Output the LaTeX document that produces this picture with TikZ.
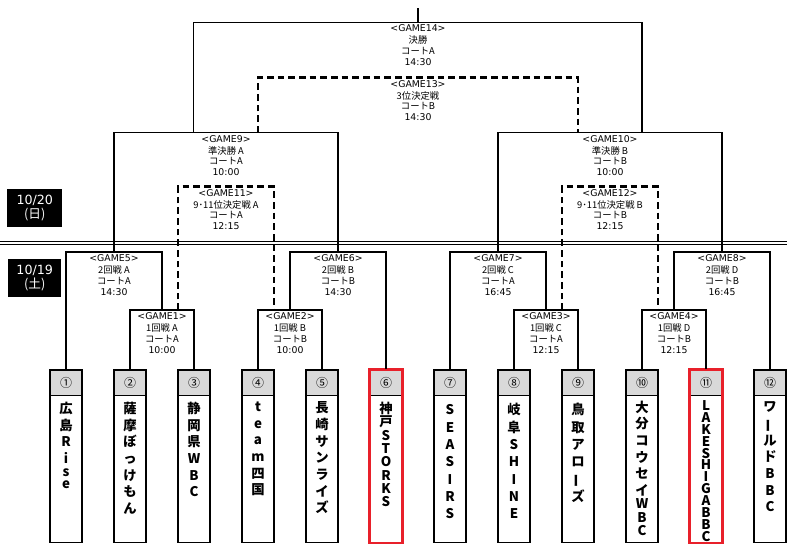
\documentclass[tikz,border=0pt]{standalone}
\usepackage{fontspec}
\setmainfont{Noto Sans CJK JP}
\newfontfamily\lat{DejaVu Sans}
\usetikzlibrary{positioning}
\definecolor{headgray}{HTML}{D9D9D9}
\definecolor{markred}{HTML}{E8202A}
\newcommand{\vbar}{\rotatebox[origin=c]{90}{ー}}
\lineskiplimit=-10pt

\begin{document}
\begin{tikzpicture}[x=0.75pt,y=-0.75pt,
  bracket/.style={line width=1pt},
  losers/.style={line width=1.8pt,dash pattern=on 5pt off 3pt},
  gametext/.style={anchor=north,align=center,inner sep=1.6pt,font=\fontsize{7pt}{8.1pt}\selectfont},
  datebox/.style={fill=black,text=white,align=center,inner sep=0pt,font=\fontsize{9.5pt}{10.6pt}\selectfont},
  teambox/.style={draw,line width=1pt,minimum width=24pt,minimum height=129.3pt,anchor=north,inner sep=0pt},
  headbox/.style={draw,line width=1pt,fill=headgray,minimum width=24pt,minimum height=19.3pt,inner sep=0pt,font=\fontsize{9pt}{9pt}\selectfont},
  teamname/.style={align=center,inner sep=0pt,font=\bfseries\fontsize{10pt}{12.5pt}\selectfont},
  marked/.style={draw=markred,line width=2pt}]
\useasboundingbox (0,0) rectangle (800,549);

% days
\node[datebox,minimum width=41.3pt,minimum height=28pt] (d20) at (34.8,208) {{\lat 10/20}\\(日)};
\node[datebox,minimum width=39.5pt,minimum height=28.3pt] (d19) at (34.7,277.9) {{\lat 10/19}\\(土)};
\draw[line width=0.8pt,double,double distance=1.8pt] (0,242.8) -- (787,242.8);

% teams
\node[teambox] (t1) at (66,369.3) {};
\node[headbox,below=0pt of t1.north] (h1) {①};
\node[teamname,below=4pt of h1] (n1) {広\\島\\R\\i\\[-3pt]s\\[-3pt]e};

\node[teambox] (t2) at (130,369.3) {};
\node[headbox,below=0pt of t2.north] (h2) {②};
\node[teamname,below=4pt of h2] (n2) {薩\\摩\\ぼ\\っ\\け\\も\\ん};

\node[teambox] (t3) at (194,369.3) {};
\node[headbox,below=0pt of t3.north] (h3) {③};
\node[teamname,below=4pt of h3] (n3) {静\\岡\\県\\W\\B\\C};

\node[teambox] (t4) at (258,369.3) {};
\node[headbox,below=0pt of t4.north] (h4) {④};
\node[teamname,below=4pt of h4] (n4) {t\\e\\a\\m\\四\\国};

\node[teambox] (t5) at (322,369.3) {};
\node[headbox,below=0pt of t5.north] (h5) {⑤};
\node[teamname,below=4pt of h5] (n5) {長\\崎\\サ\\ン\\ラ\\イ\\ズ};

\node[teambox] (t6) at (386,369.3) {};
\node[headbox,below=0pt of t6.north] (h6) {⑥};
\node[teamname,below=4pt of h6,font=\bfseries\fontsize{10pt}{10pt}\selectfont] (n6) {神\\戸\\S\\T\\O\\R\\K\\S};
\draw[marked] (t6.north west) rectangle (t6.south east);

\node[teambox] (t7) at (450,369.3) {};
\node[headbox,below=0pt of t7.north] (h7) {⑦};
\node[teamname,below=6pt of h7,font=\bfseries\fontsize{10pt}{13pt}\selectfont] (n7) {S\\E\\A\\S\\I\\R\\S};

\node[teambox] (t8) at (514,369.3) {};
\node[headbox,below=0pt of t8.north] (h8) {⑧};
\node[teamname,below=5pt of h8,font=\bfseries\fontsize{10pt}{13pt}\selectfont] (n8) {岐\\阜\\S\\H\\I\\N\\E};

\node[teambox] (t9) at (578,369.3) {};
\node[headbox,below=0pt of t9.north] (h9) {⑨};
\node[teamname,below=5pt of h9,font=\bfseries\fontsize{10pt}{13pt}\selectfont] (n9) {鳥\\取\\ア\\ロ\\\vbar\\ズ};

\node[teambox] (t10) at (642,369.3) {};
\node[headbox,below=0pt of t10.north] (h10) {⑩};
\node[teamname,below=3pt of h10] (n10) {大\\分\\コ\\ウ\\セ\\イ\\[-2.5pt]W\\[-2.5pt]B\\[-2.5pt]C};

\node[teambox] (t11) at (706,369.3) {};
\node[headbox,below=0pt of t11.north] (h11) {⑪};
\node[teamname,below=3pt of h11,font=\bfseries\fontsize{10pt}{8.9pt}\selectfont] (n11) {L\\A\\K\\E\\S\\H\\I\\G\\A\\B\\B\\C};
\draw[marked] (t11.north west) rectangle (t11.south east);

\node[teambox] (t12) at (770,369.3) {};
\node[headbox,below=0pt of t12.north] (h12) {⑫};
\node[teamname,below=4pt of h12] (n12) {ワ\\\vbar\\ル\\ド\\B\\B\\C};

% games
\coordinate (g1) at (162,310);
\coordinate (g2) at (290,310);
\coordinate (g3) at (546,310);
\coordinate (g4) at (674,310);
\coordinate (g5) at (114,252);
\coordinate (g6) at (338,252);
\coordinate (g7) at (498,252);
\coordinate (g8) at (722,252);
\coordinate (g9) at (226,132.7);
\coordinate (g10) at (610,132.7);
\coordinate (g11) at (226,186.7);
\coordinate (g12) at (610,186.7);
\coordinate (g13) at (418,77.7);
\coordinate (g14) at (418,22.3);
\coordinate (top) at (418,8);

\draw[bracket] (t2.north) |- (g1) -| (t3.north);
\draw[bracket] (t4.north) |- (g2) -| (t5.north);
\draw[bracket] (t8.north) |- (g3) -| (t9.north);
\draw[bracket] (t10.north) |- (g4) -| (t11.north);

\draw[bracket] (t1.north) |- (g5) -| (g1);
\draw[bracket] (g2) |- (g6) -| (t6.north);
\draw[bracket] (t7.north) |- (g7) -| (g3);
\draw[bracket] (g4) |- (g8) -| (t12.north);

\draw[bracket] (g5) |- (g9) -| (g6);
\draw[bracket] (g7) |- (g10) -| (g8);

\draw[bracket] ([xshift=-24.5pt]g9) |- (g14) -| ([xshift=24pt]g10);
\draw[bracket] (g14) -- (top);

\draw[losers] ([xshift=12pt]g1) |- (g11) -| ([xshift=-12pt]g2);
\draw[losers] ([xshift=12pt]g3) |- (g12) -| ([xshift=-12pt]g4);
\draw[losers] ([xshift=24pt]g9) |- (g13) -| ([xshift=-24pt]g10);

\node[gametext] (l1) at (g1) {{\lat <GAME1>}\\[1pt]1回戦 A\\コートA\\{\lat 10:00}};
\node[gametext] (l2) at (g2) {{\lat <GAME2>}\\[1pt]1回戦 B\\コートB\\{\lat 10:00}};
\node[gametext] (l3) at (g3) {{\lat <GAME3>}\\[1pt]1回戦 C\\コートA\\{\lat 12:15}};
\node[gametext] (l4) at (g4) {{\lat <GAME4>}\\[1pt]1回戦 D\\コートB\\{\lat 12:15}};
\node[gametext] (l5) at (g5) {{\lat <GAME5>}\\[1pt]2回戦 A\\コートA\\{\lat 14:30}};
\node[gametext] (l6) at (g6) {{\lat <GAME6>}\\[1pt]2回戦 B\\コートB\\{\lat 14:30}};
\node[gametext] (l7) at (g7) {{\lat <GAME7>}\\[1pt]2回戦 C\\コートA\\{\lat 16:45}};
\node[gametext] (l8) at (g8) {{\lat <GAME8>}\\[1pt]2回戦 D\\コートB\\{\lat 16:45}};
\node[gametext] (l9) at (g9) {{\lat <GAME9>}\\[1pt]準決勝 A\\コートA\\{\lat 10:00}};
\node[gametext] (l10) at (g10) {{\lat <GAME10>}\\[1pt]準決勝 B\\コートB\\{\lat 10:00}};
\node[gametext] (l11) at (g11) {{\lat <GAME11>}\\[1pt]9･11位決定戦 A\\コートA\\{\lat 12:15}};
\node[gametext] (l12) at (g12) {{\lat <GAME12>}\\[1pt]9･11位決定戦 B\\コートB\\{\lat 12:15}};
\node[gametext] (l13) at (g13) {{\lat <GAME13>}\\[1pt]3位決定戦\\コートB\\{\lat 14:30}};
\node[gametext] (l14) at (g14) {{\lat <GAME14>}\\[1pt]決勝\\コートA\\{\lat 14:30}};
\end{tikzpicture}
\end{document}
